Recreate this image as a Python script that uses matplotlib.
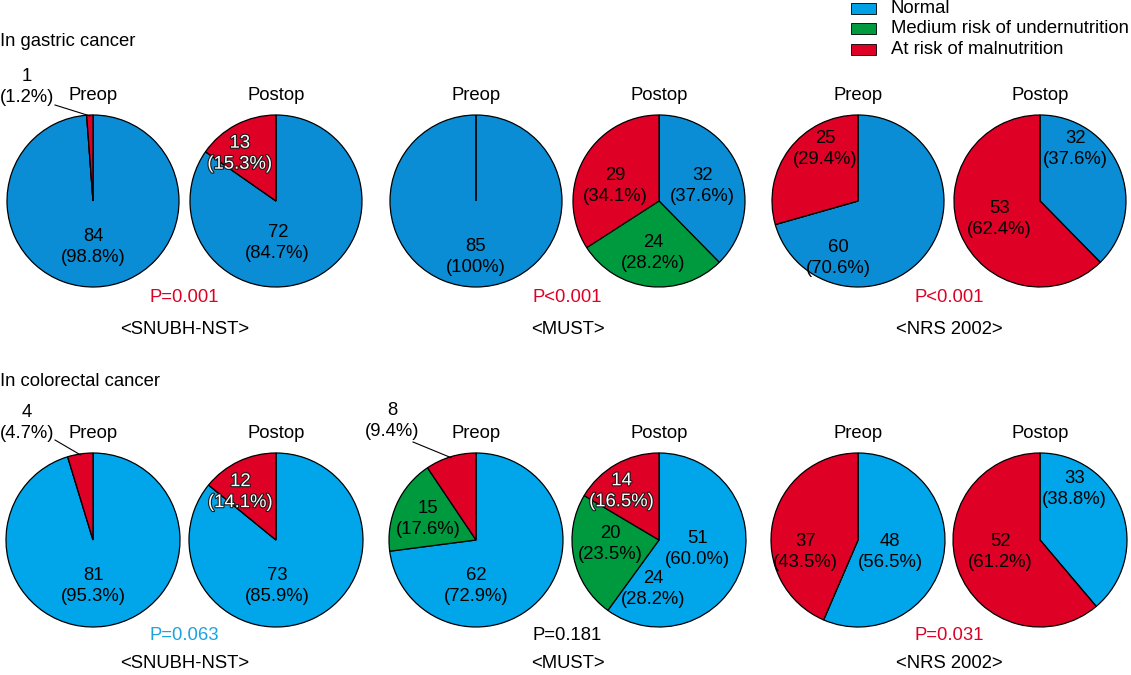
import matplotlib
matplotlib.use('Agg')
import numpy as np
import matplotlib.pyplot as plt
from matplotlib.patches import Rectangle
import matplotlib.patheffects as pe

# ---------------- data ----------------
categories = ['Normal', 'Medium risk of undernutrition', 'At risk of malnutrition']
tools = ['<SNUBH-NST>', '<MUST>', '<NRS 2002>']
periods = ['Preop', 'Postop']
row_titles = ['In gastric cancer', 'In colorectal cancer']

gastric_snubh = [[84, 0, 1], [72, 0, 13]]
gastric_must = [[85, 0, 0], [32, 24, 29]]
gastric_nrs = [[60, 0, 25], [32, 0, 53]]
colorectal_snubh = [[81, 0, 4], [73, 0, 12]]
colorectal_must = [[62, 15, 8], [51, 20, 14]]
colorectal_nrs = [[48, 0, 37], [33, 0, 52]]
gastric_p = ['P=0.001', 'P<0.001', 'P<0.001']
colorectal_p = ['P=0.063', 'P=0.181', 'P=0.031']
stray_label = ['24', '(28.2%)']   # extra label printed in colorectal MUST postop

# ---------------- style / layout ----------------
W, H = 1131, 675
FONT = 'Liberation Sans'
FS = 13.3
plt.rcParams['font.family'] = [FONT, 'DejaVu Sans']

row_colors = [['#0A8DD4', '#009A3E', '#DE0025'],
              ['#00A6E9', '#009A3E', '#DE0025']]
legend_colors = ['#00A0E6', '#009A3E', '#DE0025']
p_colors = [['#DE0025', '#DE0025', '#DE0025'],
            ['#1BA3E0', 'black', '#DE0025']]

pie_cx = [[93, 276], [476, 659], [858, 1040]]
row_cy = [201, 540]
row_r = [86, 87]
p_off = [97, 95]
tool_off = [129, 124]

# label positions (in radius units, y up); None = no label; 'out' = outside label
label_pos = [
    [  # gastric
        [[(0.0, -0.53), None, 'out'], [(0.02, -0.49), None, (-0.42, 0.55)]],
        [[(0.0, -0.65), None, None], [(0.51, 0.17), (-0.07, -0.60), (-0.51, 0.17)]],
        [[(-0.23, -0.66), None, (-0.38, 0.60)], [(0.41, 0.60), None, (-0.47, -0.21)]],
    ],
    [  # colorectal
        [[(0.0, -0.53), None, 'out'], [(0.02, -0.53), None, (-0.41, 0.55)]],
        [[(0.0, -0.53), (-0.55, 0.24), 'out'], [(0.44, -0.10), (-0.56, -0.05), (-0.43, 0.56)]],
        [[(0.37, -0.14), None, (-0.60, -0.14)], [(0.40, 0.59), None, (-0.46, -0.14)]],
    ],
]
# outlined (hollow) labels
outlined = {(0, 0, 1, 2), (1, 0, 1, 2), (1, 1, 1, 2)}
# outside labels: (row, tool, period, cat) -> (label centre px, leader start px)
outside = {
    (0, 0, 0, 2): ((27, 87), (55, 105)),
    (1, 0, 0, 2): ((27, 423), (55, 440)),
    (1, 1, 0, 2): ((392, 421), (413, 442)),
}
stray_pos = (1, 1, 1, (-0.07, -0.56))

fig = plt.figure(figsize=(W / 100, H / 100), dpi=100)
ax = fig.add_axes([0, 0, 1, 1])


def Y(ypix):
    return H - ypix


def txt(x, ypix, s, **kw):
    kw.setdefault('fontsize', FS)
    kw.setdefault('ha', 'center')
    kw.setdefault('va', 'center')
    return ax.text(x, Y(ypix), s, **kw)


def fmt_pct(v, total):
    p = 100.0 * v / total
    if abs(p - 100) < 1e-9:
        return '(100%)'
    return '({:.1f}%)'.format(p)


data = [[gastric_snubh, gastric_must, gastric_nrs],
        [colorectal_snubh, colorectal_must, colorectal_nrs]]
pvals = [gastric_p, colorectal_p]

for r in range(2):
    cy = row_cy[r]
    rad = row_r[r]
    # row title
    txt(0, cy - 159, row_titles[r], ha='left')
    for t in range(3):
        for p in range(2):
            vals = data[r][t][p]
            cx = pie_cx[t][p]
            wedges, _ = ax.pie(vals, colors=row_colors[r], startangle=90, counterclock=False,
                               center=(cx, Y(cy)), radius=rad, frame=True,
                               wedgeprops=dict(edgecolor='black', linewidth=0.9))
            txt(cx, cy - 106, periods[p])
            total = sum(vals)
            for c in range(3):
                pos = label_pos[r][t][p][c]
                if pos is None:
                    continue
                s1 = str(vals[c])
                s2 = fmt_pct(vals[c], total)
                if pos == 'out':
                    (lx, ly), (sx, sy) = outside[(r, t, p, c)]
                    txt(lx, ly - 10.5, s1)
                    txt(lx, ly + 10.5, s2)
                    w = wedges[c]
                    mid = np.deg2rad((w.theta1 + w.theta2) / 2)
                    ex = cx + 0.99 * rad * np.cos(mid)
                    ey = Y(cy) + 0.99 * rad * np.sin(mid)
                    ax.plot([sx, ex], [Y(sy), ey], color='black', linewidth=0.8)
                    continue
                bx = cx + pos[0] * rad
                by = cy - pos[1] * rad
                kw = {}
                if (r, t, p, c) in outlined:
                    kw = dict(color='white',
                              path_effects=[pe.withStroke(linewidth=1.6, foreground='#1a1a1a')])
                txt(bx, by - 10.5, s1, **kw)
                txt(bx, by + 10.5, s2, **kw)
        # p value and tool name
        mx = (pie_cx[t][0] + pie_cx[t][1]) / 2
        txt(mx, cy + p_off[r], pvals[r][t], color=p_colors[r][t])
        txt(mx, cy + tool_off[r], tools[t])

# stray label
sr, st, sp, (sdx, sdy) = stray_pos
bx = pie_cx[st][sp] + sdx * row_r[sr]
by = row_cy[sr] - sdy * row_r[sr]
txt(bx, by - 10.5, stray_label[0])
txt(bx, by + 10.5, stray_label[1])

# legend
leg_y = [8.5, 28.5, 49]
for i, name in enumerate(categories):
    ax.add_patch(Rectangle((851, Y(leg_y[i]) - 5.5), 25, 11, facecolor=legend_colors[i],
                           edgecolor='black', linewidth=0.6))
    txt(891, leg_y[i], name, ha='left')

ax.set_xlim(0, W)
ax.set_ylim(0, H)
ax.set_aspect('auto')
ax.axis('off')
fig.savefig('out.png', dpi=100, facecolor='white')
